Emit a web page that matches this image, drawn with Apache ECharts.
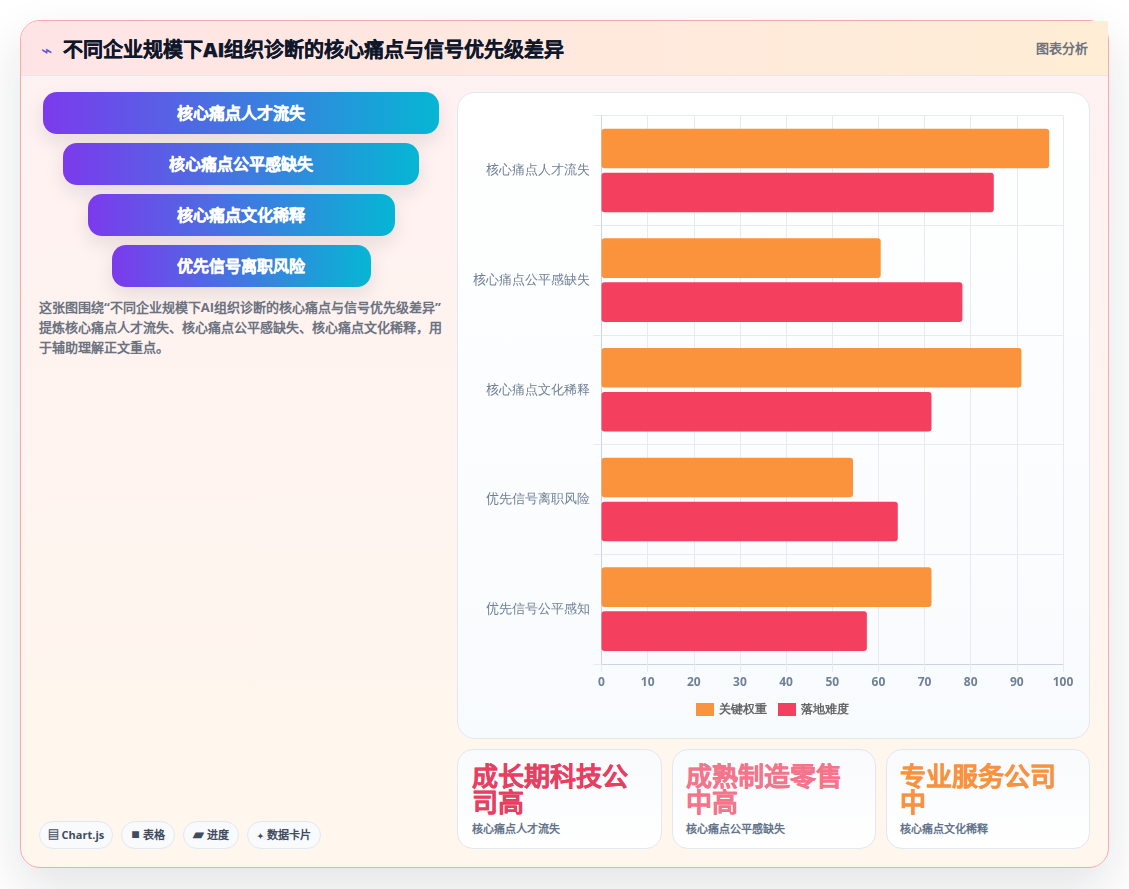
<!DOCTYPE html>
<html lang="zh-CN">
<head>
<meta charset="utf-8">
<title>不同企业规模下AI组织诊断的核心痛点与信号优先级差异</title>
<script src="https://cdn.jsdelivr.net/npm/echarts@6/dist/echarts.min.js"></script>
<style>
*{box-sizing:border-box;margin:0;padding:0}
html,body{width:1129px;height:889px;overflow:hidden;background:#fff;font-family:"Open Sans",sans-serif}
.card{position:absolute;left:20px;top:20px;width:1089px;height:848px;border:1px solid #f9a8ab;border-radius:20px;background:linear-gradient(180deg,#fff1f2,#fff7ed);box-shadow:0 20px 50px rgba(15,23,42,.12)}
.head{position:absolute;left:21px;top:21px;width:1087px;height:55px;background:linear-gradient(90deg,#ffe4e6,#ffedd5);border-bottom:1px solid #ebe6ea;border-top-left-radius:19px}
.icon{position:absolute;left:20px;top:15px;font-size:19px;line-height:28px;color:#5b54e8}
.title{position:absolute;left:42px;top:15px;font-size:20px;line-height:28px;font-weight:800;color:#0f172a;white-space:nowrap;-webkit-text-stroke:.25px #0f172a}
.tag{position:absolute;right:20px;top:17px;font-size:13px;line-height:20px;font-weight:700;color:#6b7280}
.step{position:absolute;height:42px;border-radius:14px;background:linear-gradient(90deg,#7c3aed,#06b6d4);box-shadow:0 8px 20px rgba(15,23,42,.10);color:#fff;font-size:16px;font-weight:800;line-height:42px;text-align:center;-webkit-text-stroke:.25px #fff}
.step:nth-child(1){left:43px;width:396px;top:92px}
.step:nth-child(2){left:63px;width:356px;top:143px}
.step:nth-child(3){left:88px;width:307px;top:194px;padding-right:1px}
.step:nth-child(4){left:112px;width:259px;top:245px;padding-right:1px}
.desc{position:absolute;left:39px;top:297px;width:405px;font-size:13px;line-height:20px;font-weight:700;color:#6b7280}
.pill{position:absolute;top:821px;height:28px;border:1px solid #e2e8f0;border-radius:14px;background:#f8fafc;font-size:11px;line-height:26px;font-weight:700;color:#3f4b5f;text-align:center;white-space:nowrap}
.pill i{font-style:normal}
.pill:nth-child(1){left:39px;width:74px}
.pill:nth-child(2){left:121px;width:54px}
.pill:nth-child(3){left:183px;width:56px}
.pill:nth-child(4){left:247px;width:74px}
.pill:nth-child(2) i{font-size:14px;line-height:14px}
.pill:nth-child(3) i{font-size:14px;line-height:14px}
.pill:nth-child(4) i{font-size:8px}
.panel{position:absolute;left:457.4px;top:92.4px;width:632.6px;height:646.6px;border:1px solid #e2e8f0;border-radius:18px;background:linear-gradient(180deg,#fff,#f8fbfd)}
#chart{position:absolute;left:0;top:0;width:630px;height:644px}
.kpi{position:absolute;top:749px;height:100px;border:1px solid #e2e8f0;border-radius:16px;background:linear-gradient(180deg,#f8fafc,#fff)}
.kpi:nth-child(1){left:457.4px;width:204.6px}
.kpi:nth-child(2){left:672px;width:204px}
.kpi:nth-child(3){left:886px;width:204px}
.kpi:nth-child(1) b{color:#e83e62}
.kpi:nth-child(2) b{color:#f4758b}
.kpi:nth-child(3) b{color:#f8923f}
.kpi b{position:absolute;left:13px;top:13px;width:178px;font-size:26px;line-height:26px;font-weight:800;-webkit-text-stroke:.3px currentColor}
.kpi span{position:absolute;left:13px;top:71px;font-size:11px;line-height:16px;font-weight:700;color:#64748b}
.kpi:nth-child(1) b,.kpi:nth-child(1) span{left:14px}
</style>
</head>
<body>
<div class="card"></div>
<div class="head">
  <div class="icon">⌁</div>
  <div class="title">不同企业规模下AI组织诊断的核心痛点与信号优先级差异</div>
  <div class="tag">图表分析</div>
</div>
<div id="steps"></div>
<div class="desc">这张图围绕“不同企业规模下AI组织诊断的核心痛点与信号优先级差异”提炼核心痛点人才流失、核心痛点公平感缺失、核心痛点文化稀释，用于辅助理解正文重点。</div>
<div id="pills"></div>
<div class="panel"><div id="chart"></div></div>
<div id="kpis"></div>
<script>
// Chart data
const categories = ['核心痛点人才流失', '核心痛点公平感缺失', '核心痛点文化稀释', '优先信号离职风险', '优先信号公平感知'];
const keyWeight = [97, 60.5, 91, 54.5, 71.5];
const difficulty = [85, 78.2, 71.5, 64.2, 57.5];
const valueTicks = { min: 0, max: 100, interval: 10 };
const legendNames = ['关键权重', '落地难度'];

// Side-panel content
const stepLabels = ['核心痛点人才流失', '核心痛点公平感缺失', '核心痛点文化稀释', '优先信号离职风险'];
const pillIcons = ['▤', '■', '▰', '✦'];
const pillLabels = ['Chart.js', '表格', '进度', '数据卡片'];
const kpiTitles = ['成长期科技公司高', '成熟制造零售中高', '专业服务公司中'];
const kpiNotes = ['核心痛点人才流失', '核心痛点公平感缺失', '核心痛点文化稀释'];

document.getElementById('steps').innerHTML = stepLabels.map(t => `<div class="step">${t}</div>`).join('');
document.getElementById('pills').innerHTML = pillLabels.map((t, i) =>
  `<div class="pill"><i>${pillIcons[i]}</i> ${t}</div>`).join('');
document.getElementById('kpis').innerHTML = kpiTitles.map((t, i) =>
  `<div class="kpi"><b>${t}</b><span>${kpiNotes[i]}</span></div>`).join('');

const FONT = '"Open Sans", sans-serif';
const GRID_LINE = '#e6ebf0';
const chart = echarts.init(document.getElementById('chart'), null, { renderer: 'canvas' });
chart.setOption({
  animation: false,
  textStyle: { fontFamily: FONT },
  legend: {
    data: legendNames,
    left: 233,
    top: 605,
    itemWidth: 18,
    itemHeight: 13,
    itemGap: 11,
    icon: 'rect',
    textStyle: { fontSize: 12, fontWeight: 700, color: '#666', fontFamily: FONT }
  },
  grid: { left: 143.5, top: 22.6, width: 461.5, height: 548.4 },
  xAxis: {
    type: 'value',
    min: valueTicks.min,
    max: valueTicks.max,
    interval: valueTicks.interval,
    axisLine: { show: true, lineStyle: { color: '#cbd5e1' } },
    axisTick: { show: true, length: 8, lineStyle: { color: GRID_LINE } },
    axisLabel: { fontSize: 12, fontWeight: 700, color: '#718096', margin: 13, fontFamily: FONT },
    splitLine: { show: true, lineStyle: { color: GRID_LINE } }
  },
  yAxis: {
    type: 'category',
    data: categories,
    inverse: true,
    axisLine: { show: true, lineStyle: { color: '#cbd5e1' } },
    axisTick: { show: true, length: 8, alignWithLabel: false, lineStyle: { color: GRID_LINE } },
    axisLabel: { fontSize: 13, color: '#718096', margin: 12, fontFamily: FONT },
    splitLine: { show: true, lineStyle: { color: GRID_LINE } }
  },
  series: [
    { name: legendNames[0], type: 'bar', data: keyWeight, barWidth: 39.6, barGap: '11.1%',
      itemStyle: { color: '#fb923c', borderRadius: 3 } },
    { name: legendNames[1], type: 'bar', data: difficulty, barWidth: 39.6,
      itemStyle: { color: '#f43f5e', borderRadius: 3 } }
  ]
});
</script>
</body>
</html>
